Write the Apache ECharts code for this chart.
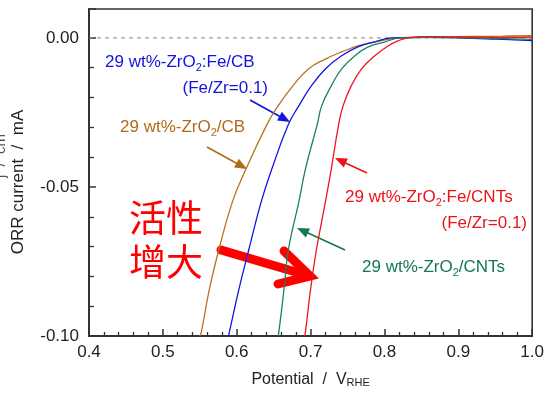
<!DOCTYPE html>
<html>
<head>
<meta charset="utf-8">
<script src="https://cdn.jsdelivr.net/npm/echarts@6/dist/echarts.min.js"></script>
<style>html,body{margin:0;padding:0;background:#fff}#c{width:547px;height:393px}</style>
</head>
<body>
<div id="c"></div>
<script>
// ---- data (potential V_RHE, ORR current mA) ----
const cbPot   = [0.550,0.552,0.563,0.576,0.594,0.6125,0.641,0.656,0.676,0.697,0.720,0.742,0.764,0.787,0.809,0.830,0.870,0.920,0.960,1.000];
const cbCur   = [-0.100,-0.0988,-0.0843,-0.0709,-0.0551,-0.044,-0.029,-0.0228,-0.0161,-0.0104,-0.0071,-0.0047,-0.0027,-0.0013,-0.0003,0.0002,0.0004,0.0005,0.0006,0.0008];
const fecbPot = [0.589,0.590,0.603,0.6165,0.633,0.6475,0.670,0.684,0.701,0.720,0.742,0.764,0.787,0.809,0.850,0.900,0.950,1.000];
const fecbCur = [-0.100,-0.0988,-0.0843,-0.0709,-0.0551,-0.044,-0.029,-0.0228,-0.0161,-0.0104,-0.006,-0.003,-0.0013,0.0000,0.0002,0.0000,-0.0004,-0.0009];
const cntPot  = [0.656,0.657,0.664,0.670,0.684,0.693,0.709,0.715,0.728,0.742,0.760,0.778,0.801,0.822,0.860,0.900,0.950,1.000];
const cntCur  = [-0.100,-0.0988,-0.0843,-0.0709,-0.0551,-0.044,-0.029,-0.0228,-0.0161,-0.0104,-0.006,-0.003,-0.0013,0.0000,0.0002,0.0001,-0.0002,-0.0005];
const fecntPot= [0.692,0.693,0.700,0.708,0.720,0.728,0.738,0.744,0.755,0.769,0.787,0.805,0.818,0.832,0.860,0.900,0.950,1.000];
const fecntCur= [-0.100,-0.0988,-0.0843,-0.0709,-0.0551,-0.044,-0.029,-0.0228,-0.0161,-0.0104,-0.006,-0.0027,-0.001,0.0000,0.0004,0.0003,0.0002,0.0003];
const zeroPot = [0.4, 1.0];
const zeroCur = [0, 0];
const seriesNames = ['29 wt%-ZrO2/CB','29 wt%-ZrO2:Fe/CB','29 wt%-ZrO2/CNTs','29 wt%-ZrO2:Fe/CNTs'];

const FONT = '"Liberation Sans", Arial, sans-serif';
const colors = ['#B8741A','#1414E0','#17845A','#F0141E'];
const zip = (a,b)=>a.map((v,i)=>[v,b[i]]);

const chart = echarts.init(document.getElementById('c'), null, {renderer:'canvas'});

function arrow(x1,y1,x2,y2,color,w,hl,hw){
  const dx=x2-x1, dy=y2-y1, L=Math.hypot(dx,dy), ux=dx/L, uy=dy/L;
  const bx=x2-ux*hl, by=y2-uy*hl;
  return [
    {type:'line', shape:{x1:x1,y1:y1,x2:bx+ux*1,y2:by+uy*1}, style:{stroke:color,lineWidth:w}},
    {type:'polygon', shape:{points:[[x2,y2],[bx-uy*hw,by+ux*hw],[bx+uy*hw,by-ux*hw]]}, style:{fill:color}}
  ];
}
function label(x,y,text,color,align){
  return {type:'text', x:x, y:y, style:{text:text, fill:color, align:align||'left', verticalAlign:'middle',
    font:'17px '+FONT,
    rich:{s:{fontSize:11, fontFamily:FONT, fill:color, lineHeight:9, verticalAlign:'bottom'},
          n:{fontSize:17, fontFamily:FONT, fill:color, lineHeight:22}}}};
}

const graphics = [].concat(
  [label(105,62,'{n|29 wt%-ZrO}{s|2}{n|:Fe/CB}',colors[1]),
   label(268,88,'{n|(Fe/Zr=0.1)}',colors[1],'right'),
   label(120,127,'{n|29 wt%-ZrO}{s|2}{n|/CB}','#B06A1A'),
   label(345,197,'{n|29 wt%-ZrO}{s|2}{n|:Fe/CNTs}','#E8141A'),
   label(527,223,'{n|(Fe/Zr=0.1)}','#E8141A','right'),
   label(362,267,'{n|29 wt%-ZrO}{s|2}{n|/CNTs}','#13784E')],
  arrow(250,100,290,122,colors[1],1.6,12,5),
  arrow(207,147,247,169,'#B06A1A',1.6,12,5),
  arrow(367,173,335,158,'#E8141A',1.6,12,5),
  arrow(345,250,297,228,'#13784E',1.6,12,5),
  [
   {type:'text', x:129, y:218, style:{text:'活性', fill:'#FF0000', verticalAlign:'middle', font:'37px "Noto Sans CJK SC", sans-serif'}},
   {type:'text', x:129, y:262, style:{text:'增大', fill:'#FF0000', verticalAlign:'middle', font:'37px "Noto Sans CJK SC", sans-serif'}},
   {type:'line', shape:{x1:221,y1:250,x2:306,y2:275}, style:{stroke:'#FF0000', lineWidth:9, lineCap:'round'}},
   {type:'polyline', shape:{points:[[284,251],[310,276],[278,284]]}, style:{stroke:'#FF0000', lineWidth:9, lineCap:'round', lineJoin:'miter', fill:null}},
   {type:'text', x:18, y:182, rotation:Math.PI/2, style:{text:'ORR current  /  mA', fill:'#222', align:'center', verticalAlign:'middle', font:'17px '+FONT}},
   {type:'text', x:1, y:156, rotation:Math.PI/2, style:{text:'j  /  cm', fill:'#555', align:'center', verticalAlign:'middle', font:'15px '+FONT}}
  ]
);

const mkSeries = (name,data,color,extra)=>Object.assign({
  name:name, type:'line', data:data, showSymbol:false, smooth:0.45,
  lineStyle:{color:color,width:1.3}, itemStyle:{color:color}, z:3
}, extra||{});

chart.setOption({
  animation:false,
  backgroundColor:'#fff',
  grid:{left:89, right:12, top:9, bottom:56, show:true, borderColor:'#333', borderWidth:1.6, backgroundColor:'transparent'},
  xAxis:{type:'value', min:0.4, max:1.0, interval:0.1,
    axisLine:{show:true, onZero:false, lineStyle:{color:'#333', width:2}},
    axisTick:{show:true, inside:true, length:7, lineStyle:{color:'#333', width:1.5}},
    minorTick:{show:true, splitNumber:5, length:4, lineStyle:{color:'#333', width:1.3}},
    splitLine:{show:false}, minorSplitLine:{show:false},
    axisLabel:{color:'#222', fontSize:17, fontFamily:FONT, margin:8, formatter:v=>v.toFixed(1)},
    name:'Potential  /  V{s|RHE}', nameLocation:'middle', nameGap:36,
    nameTextStyle:{color:'#222', fontSize:16, fontFamily:FONT, rich:{s:{fontSize:11, fontFamily:FONT, color:'#222', lineHeight:8, verticalAlign:'bottom'}}}
  },
  yAxis:{type:'value', min:-0.10, max:0.0097, interval:0.05,
    axisLine:{show:true, onZero:false, lineStyle:{color:'#333', width:2}},
    axisTick:{show:true, inside:true, length:7, lineStyle:{color:'#333', width:1.5}},
    minorTick:{show:true, splitNumber:5, length:5, lineStyle:{color:'#333', width:1.3}},
    splitLine:{show:false}, minorSplitLine:{show:false},
    axisLabel:{color:'#222', fontSize:17, fontFamily:FONT, margin:10, showMaxLabel:false,
      formatter:v=>(Math.abs(v)<1e-9?'0.00':v.toFixed(2))}
  },
  series:[
    {name:'zero', type:'line', data:zip(zeroPot,zeroCur), showSymbol:false, silent:true,
      lineStyle:{color:'#888', type:[4,4], width:1}, z:1},
    mkSeries(seriesNames[0], zip(cbPot,cbCur), colors[0]),
    mkSeries(seriesNames[1], zip(fecbPot,fecbCur), colors[1]),
    mkSeries(seriesNames[2], zip(cntPot,cntCur), colors[2]),
    mkSeries(seriesNames[3], zip(fecntPot,fecntCur), colors[3])
  ],
  graphic:graphics
});
</script>
</body>
</html>
